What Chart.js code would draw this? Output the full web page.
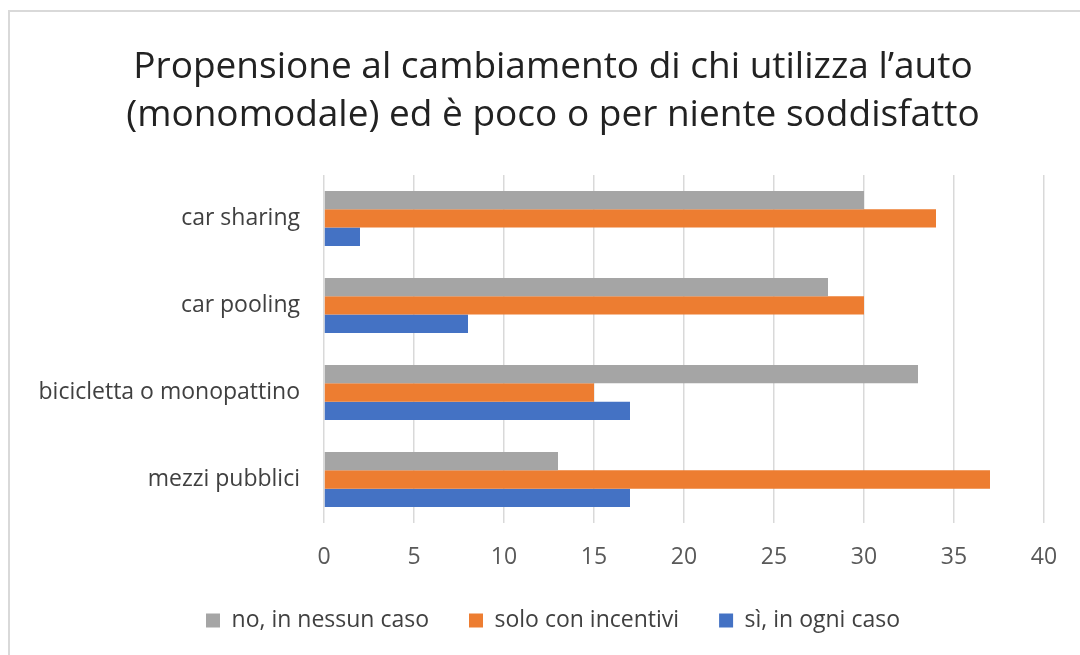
<!DOCTYPE html>
<html lang="it">
<head>
<meta charset="utf-8">
<title>Propensione al cambiamento</title>
<script src="https://cdn.jsdelivr.net/npm/chart.js@4"></script>
<style>
    body { margin: 0; background: #fff; }
    #wrap { position: relative; width: 1080px; height: 655px; overflow: hidden; }
    #frame {
        position: absolute; left: 8px; top: 10px; width: 1200px; height: 800px;
        border: 2px solid #d9d9d9; box-sizing: border-box;
    }
    #chart { position: absolute; left: 0; top: 0; }
</style>
</head>
<body>
<div id="wrap">
    <div id="frame"></div>
    <canvas id="chart" width="1080" height="655"></canvas>
</div>
<script>
// Dati
const categorie = ['car sharing', 'car pooling', 'bicicletta o monopattino', 'mezzi pubblici'];
const nessunCaso = [30, 28, 33, 13];
const conIncentivi = [34, 30, 15, 37];
const ogniCaso = [2, 8, 17, 17];
const tickAsseX = [0, 5, 10, 15, 20, 25, 30, 35, 40];

// le etichette lunghe escono a sinistra dell'asse: allargo la zona di clip
const etichetteLarghe = {
    id: 'etichetteLarghe',
    afterLayout: function(chart) {
        chart.scales.y.left = 0;
    }
};

document.addEventListener('DOMContentLoaded', function() {
    const ctx = document.getElementById('chart').getContext('2d');
    new Chart(ctx, {
        type: 'bar',
        data: {
            labels: categorie,
            datasets: [
                { label: 'no, in nessun caso', data: nessunCaso, backgroundColor: '#a5a5a5' },
                { label: 'solo con incentivi', data: conIncentivi, backgroundColor: '#ed7d31' },
                { label: 'sì, in ogni caso', data: ogniCaso, backgroundColor: '#4472c4' }
            ]
        },
        plugins: [etichetteLarghe],
        options: {
            indexAxis: 'y',
            responsive: false,
            animation: false,
            categoryPercentage: 0.63,
            barPercentage: 1,
            layout: { padding: { left: 62, right: 36, top: 0, bottom: 13 } },
            plugins: {
                title: {
                    display: true,
                    text: ['Propensione al cambiamento di chi utilizza l\u2019auto',
                           '(monomodale) ed è poco o per niente soddisfatto'],
                    color: '#222222',
                    font: { family: 'Open Sans', size: 37, weight: 'normal', lineHeight: 1.297 },
                    padding: { top: 43, bottom: 36 }
                },
                legend: {
                    position: 'bottom',
                    labels: {
                        color: '#404040',
                        font: { family: 'Open Sans', size: 23 },
                        boxWidth: 14,
                        boxHeight: 14,
                        padding: 40
                    }
                },
                tooltip: { enabled: false }
            },
            scales: {
                x: {
                    min: 0,
                    max: 40,
                    afterBuildTicks: function(scale) {
                        scale.ticks = tickAsseX.map(v => ({ value: v }));
                    },
                    afterFit: function(scale) { scale.height = 46; },
                    grid: { color: '#d9d9d9', lineWidth: 1.5, drawTicks: false },
                    border: { display: false },
                    ticks: {
                        color: '#595959',
                        font: { family: 'Open Sans', size: 23 },
                        padding: 21
                    }
                },
                y: {
                    afterFit: function(scale) { scale.width = 262; },
                    grid: { display: false },
                    border: { display: false },
                    ticks: {
                        color: '#404040',
                        font: { family: 'Open Sans', size: 23 },
                        padding: 16
                    }
                }
            }
        }
    });
});
</script>
</body>
</html>
